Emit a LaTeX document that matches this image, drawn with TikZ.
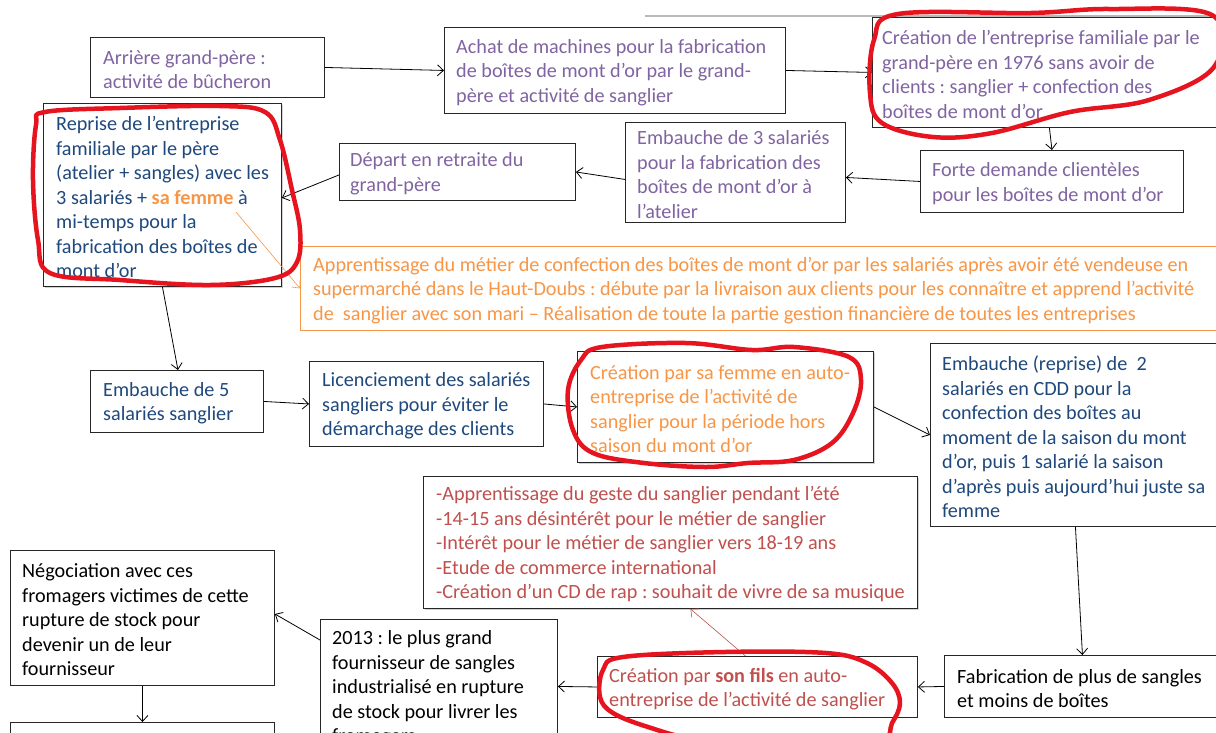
\documentclass[tikz,border=0pt]{standalone}
\usepackage{fontspec}
\setmainfont{Carlito}
\frenchspacing
\usetikzlibrary{arrows.meta,shadows}
\definecolor{cpurple}{HTML}{8064A2}
\definecolor{cblue}{HTML}{1F497D}
\definecolor{corange}{HTML}{F79646}
\definecolor{cred}{HTML}{C0504D}
\definecolor{inkred}{HTML}{E5141E}
\begin{document}
\begin{tikzpicture}[x=1pt,y=-1pt,
  box/.style={draw=black!85, line width=0.9pt, inner sep=0pt, fill=white, anchor=north west},
  obox/.style={draw=corange, line width=0.8pt, inner sep=0pt, fill=white, anchor=north west},
  shad/.style={drop shadow={shadow xshift=2pt, shadow yshift=-2pt, opacity=0.35}},
  txt/.style={anchor=west, align=left, inner sep=0pt, yshift=-2pt, font=\fontsize{20.2}{24.5}\selectfont},
  arr/.style={-{Straight Barb[length=6pt,width=11pt]}, line width=0.8pt},
  ring/.style={draw=inkred, line width=4.5pt, line cap=round, line join=round}]
\path[use as bounding box] (0,0) rectangle (1216,732);
\clip (0,0) rectangle (1216,732);
\fill[white] (0,0) rectangle (1216,732);
\draw[gray!55, line width=1.6pt] (645,16) -- (1216,16);

% boxes
\node[box, minimum width=234pt, minimum height=60pt] (arriere) at (90,37) {};
\node[box, minimum width=341pt, minimum height=86pt] (achat) at (444,27) {};
\node[box, minimum width=354pt, minimum height=110pt] (creafam) at (872,17) {};
\node[box, minimum width=263pt, minimum height=62pt] (forte) at (920,150) {};
\node[box, minimum width=220pt, minimum height=100pt] (emb3) at (625,122) {};
\node[box, minimum width=236pt, minimum height=57pt] (depart) at (339,143) {};
\node[box, shad, minimum width=238pt, minimum height=183pt] (reprise) at (43,103) {};
\node[obox, minimum width=930pt, minimum height=84pt] (orange) at (300,246) {};
\node[box, minimum width=173pt, minimum height=62pt] (emb5) at (90,370) {};
\node[box, minimum width=234pt, minimum height=85pt] (lic) at (309,361) {};
\node[box, shad, minimum width=296pt, minimum height=111pt] (creafem) at (577,351) {};
\node[box, minimum width=290pt, minimum height=183pt] (embrep) at (930,343) {};
\node[box, shad, minimum width=494pt, minimum height=132pt] (redbox) at (423,476) {};
\node[box, minimum width=264pt, minimum height=135pt] (nego) at (10,550) {};
\node[box, minimum width=264pt, minimum height=60pt] (next) at (10,722) {};
\node[box, minimum width=237pt, minimum height=134pt] (y2013) at (320,619) {};
\node[box, minimum width=320pt, minimum height=61pt] (fils) at (597,656) {};
\node[box, minimum width=276pt, minimum height=62pt] (fab) at (944,655) {};

% texts
\node[txt, text=cpurple] (arriere-t) at ([xshift=13pt]arriere.west) {Arrière grand-père :\\activité de bûcheron};
\node[txt, text=cpurple] (achat-t) at ([xshift=12pt]achat.west) {Achat de machines pour la fabrication\\de boîtes de mont d’or par le grand-\\père et activité de sanglier};
\node[txt, text=cpurple] (creafam-t) at ([xshift=10pt]creafam.west) {Création de l’entreprise familiale par le\\grand-père en 1976 sans avoir de\\clients : sanglier + confection des\\boîtes de mont d’or};
\node[txt, text=cpurple] (forte-t) at ([xshift=12pt]forte.west) {Forte demande clientèles\\pour les boîtes de mont d’or};
\node[txt, text=cpurple] (emb3-t) at ([xshift=12pt]emb3.west) {Embauche de 3 salariés\\pour la fabrication des\\boîtes de mont d’or à\\l’atelier};
\node[txt, text=cpurple] (depart-t) at ([xshift=11pt]depart.west) {Départ en retraite du\\grand-père};
\node[txt, text=cblue] (reprise-t) at ([xshift=13pt]reprise.west) {Reprise de l’entreprise\\familiale par le père\\(atelier + sangles) avec les\\3 salariés + \textcolor{corange}{\textbf{sa femme}} à\\mi-temps pour la\\fabrication des boîtes de\\mont d’or};
\node[txt, text=corange] (orange-t) at ([xshift=13pt]orange.west) {Apprentissage du métier de confection des boîtes de mont d’or par les salariés après avoir été vendeuse en\\supermarché dans le Haut-Doubs : débute par la livraison aux clients pour les connaître et apprend l’activité\\de~ sanglier avec son mari – Réalisation de toute la partie gestion financière de toutes les entreprises};
\node[txt, text=cblue] (emb5-t) at ([xshift=13pt]emb5.west) {Embauche de 5\\salariés sanglier};
\node[txt, text=cblue] (lic-t) at ([xshift=13pt]lic.west) {Licenciement des salariés\\sangliers pour éviter le\\démarchage des clients};
\node[txt, text=corange] (creafem-t) at ([xshift=13pt]creafem.west) {Création par sa femme en auto-\\entreprise de l’activité de\\sanglier pour la période hors\\saison du mont d’or};
\node[txt, text=cblue] (embrep-t) at ([xshift=12pt]embrep.west) {Embauche (reprise) de~ 2\\salariés en CDD pour la\\confection des boîtes au\\moment de la saison du mont\\d’or, puis 1 salarié la saison\\d’après puis aujourd’hui juste sa\\femme};
\node[txt, text=cred] (redbox-t) at ([xshift=13pt]redbox.west) {-Apprentissage du geste du sanglier pendant l’été\\-14-15 ans désintérêt pour le métier de sanglier\\-Intérêt pour le métier de sanglier vers 18-19 ans\\-Etude de commerce international\\-Création d’un CD de rap : souhait de vivre de sa musique};
\node[txt] (nego-t) at ([xshift=12pt]nego.west) {Négociation avec ces\\fromagers victimes de cette\\rupture de stock pour\\devenir un de leur\\fournisseur};
\node[txt] (y2013-t) at ([xshift=12pt]y2013.west) {2013 : le plus grand\\fournisseur de sangles\\industrialisé en rupture\\de stock pour livrer les\\fromagers};
\node[txt, text=cred] (fils-t) at ([xshift=12pt]fils.west) {Création par \textbf{son fils} en auto-\\entreprise de l’activité de sanglier};
\node[txt] (fab-t) at ([xshift=13pt]fab.west) {Fabrication de plus de sangles\\et moins de boîtes};

% connectors
\coordinate (sf) at (236,212);
\draw[arr] (arriere.east) -- (achat.west);
\draw[arr] (achat.east) -- (creafam.west);
\draw[arr] (creafam.south) -- (forte.north);
\draw[arr] (forte.west) -- ([yshift=-5pt]emb3.east);
\draw[arr] ([yshift=-7pt]emb3.west) -- (depart.east);
\draw[arr] ([yshift=-3pt]depart.west) -- ([yshift=-3pt]reprise.east);
\draw[arr] (reprise.south) -- ([xshift=1pt]emb5.north);
\draw[arr] (emb5.east) -- (lic.west);
\draw[arr] (lic.east) -- (creafem.west);
\draw[arr] (creafem.east) -- (embrep.west);
\draw[arr] (embrep.south) -- (fab.north);
\draw[arr] (fab.west) -- (fils.east);
\draw[arr] (fils.west) -- (y2013.east);
\draw[arr] ([yshift=-21pt]y2013.north west) -- ([yshift=4pt]nego.east);
\draw[arr] (nego.south) -- (next.north);
\draw[arr, draw=corange, line width=0.6pt] (sf) -- (orange.west);
\draw[arr, draw=cred, line width=0.6pt] ([xshift=-12pt]fils.north) -- ([xshift=20pt]redbox.south);

% hand-drawn red rings
\draw[ring] plot[smooth cycle, tension=0.6] coordinates {(45,112) (120,108) (220,106) (265,112) (280,140) (292,190) (300,230) (297,262) (275,278) (210,285) (120,280) (50,273) (38,240) (33,180) (36,125)};
\draw[ring] plot[smooth cycle, tension=0.6] coordinates {(898,14) (1031,13) (1110,9) (1212,15) (1214,67) (1149,100) (1070,112) (992,133) (933,137) (882,123) (870,93) (874,40)};
\draw[ring] plot[smooth cycle, tension=0.6] coordinates {(602,347) (686,343) (752,350) (794,347) (849,357) (861,380) (853,413) (832,443) (794,460) (748,463) (706,467) (644,463) (593,453) (573,430) (568,390) (581,360)};
\draw[ring] plot[smooth cycle, tension=0.6] coordinates {(623,657) (725,652) (826,653) (867,663) (892,683) (900,703) (892,723) (877,740) (780,745) (699,740) (648,727) (613,713) (600,697) (603,670)};
\end{tikzpicture}
\end{document}
